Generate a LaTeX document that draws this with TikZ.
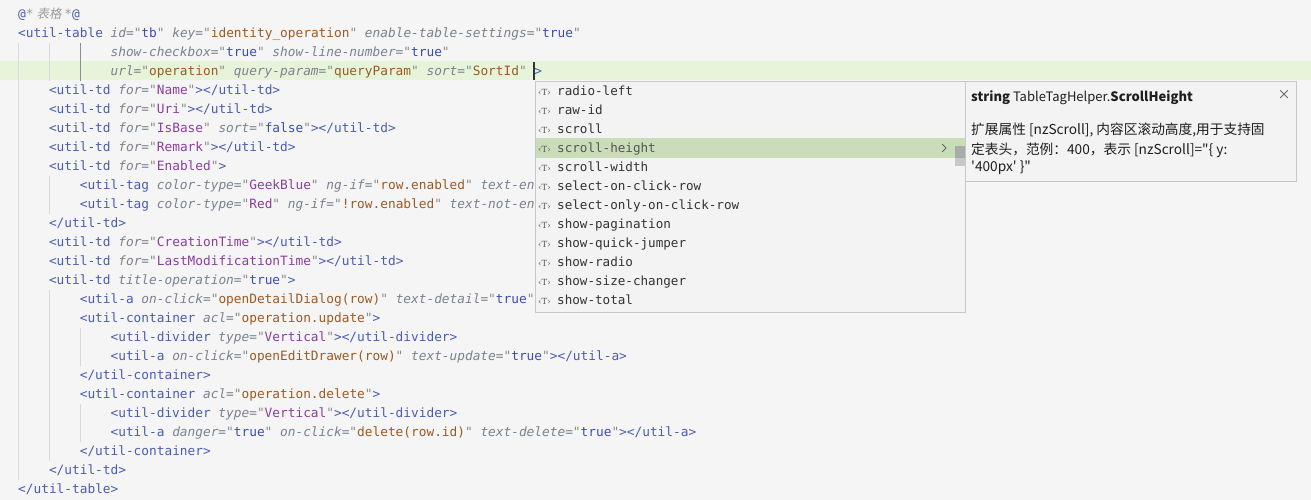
\documentclass[tikz,border=0pt]{standalone}
\usepackage{fontspec}
\usepackage{xcolor}
\setmonofont{DejaVu Sans Mono}
\newfontfamily\tipfont{Noto Sans CJK SC}
\newfontfamily\cjkslant{Noto Sans CJK SC}[FakeSlant=0.2]
\newfontfamily\iconfont{DejaVu Serif}

\definecolor{bgc}{HTML}{F5F5F5}
\definecolor{curc}{HTML}{E6F5DA}
\definecolor{guidec}{HTML}{D9D9D9}
\definecolor{activec}{HTML}{8E8E8E}
\definecolor{tagc}{HTML}{4B5CB0}
\definecolor{attrc}{HTML}{7A8290}
\definecolor{quotec}{HTML}{8C8C8C}
\definecolor{strb}{HTML}{9C5A22}
\definecolor{strp}{HTML}{8A3E9E}
\definecolor{valc}{HTML}{3B4CB8}
\definecolor{comc}{HTML}{9A9A9A}
\definecolor{panelc}{HTML}{F3F3F3}
\definecolor{borderc}{HTML}{C8C8C8}
\definecolor{selc}{HTML}{CADDB9}
\definecolor{itemc}{HTML}{333333}
\definecolor{iconc}{HTML}{555555}
\definecolor{thumbc}{HTML}{A9ADA9}
\definecolor{tipc}{HTML}{1E1E1E}

% pieces of a code line
\newcommand{\ctag}[1]{\textcolor{tagc}{#1}}
\newcommand{\cattr}[1]{\textcolor{attrc}{\itshape #1}\textcolor{attrc}{=}}
\newcommand{\cstr}[1]{\textcolor{quotec}{"}\textcolor{strb}{#1}\textcolor{quotec}{"}}
\newcommand{\cnam}[1]{\textcolor{quotec}{"}\textcolor{strp}{#1}\textcolor{quotec}{"}}
\newcommand{\cval}[1]{\textcolor{quotec}{"}\textcolor{valc}{#1}\textcolor{quotec}{"}}

\tikzset{
  codeline/.style={anchor=base west, inner sep=0pt, font=\ttfamily\fontsize{12.8}{15}\selectfont},
  item/.style={anchor=base west, inner sep=0pt, text=itemc, font=\ttfamily\fontsize{12.6}{15}\selectfont},
  itemicon/.style={anchor=base west, inner sep=0pt, text=iconc, font=\iconfont\fontsize{8.5}{9}\selectfont},
  tiptext/.style={anchor=base west, inner sep=0pt, text=tipc, font=\tipfont\fontsize{13}{18}\selectfont},
  tipdesc/.style={tiptext, font=\tipfont\fontsize{13.7}{18}\selectfont},
  guide/.style={draw=guidec, line width=0.9pt},
  panel/.style={fill=panelc, draw=borderc, line width=0.9pt}
}

\begin{document}
\begin{tikzpicture}[x=1pt,y=-1pt]
  \useasboundingbox (0,0) rectangle (1311,500);
  \fill[bgc] (0,0) rectangle (1311,500);
  \fill[curc] (0,61.5) rectangle (1311,80.5);

  % indent guides
  \draw[guide] (18.5,43) -- (18.5,480);
  \draw[guide] (49.5,43) -- (49.5,81);
  \draw[guide] (49.5,176) -- (49.5,214);
  \draw[guide] (49.5,290) -- (49.5,461);
  \draw[draw=activec, line width=0.9pt] (80.5,43) -- (80.5,81);
  \draw[guide] (80.5,328) -- (80.5,366);
  \draw[guide] (80.5,404) -- (80.5,442);

  % code
  \node[codeline] (l1) at (18,18.5) {\ctag{@}\textcolor{comc}{\itshape *}{\cjkslant\fontsize{12.5}{12}\selectfont\textcolor{comc}{\makebox[30.8pt]{表格}}}\textcolor{comc}{\itshape *}\ctag{@}};
  \node[codeline] (l2) at (18,37.5) {\ctag{<util-table} \cattr{id}\cval{tb} \cattr{key}\cstr{identity\_operation} \cattr{enable-table-settings}\cval{true}};
  \node[codeline] (l3) at (110.4,56.5) {\cattr{show-checkbox}\cval{true} \cattr{show-line-number}\cval{true}};
  \node[codeline] (l4) at (110.4,75.5) {\cattr{url}\cstr{operation} \cattr{query-param}\cstr{queryParam} \cattr{sort}\cstr{SortId} \ctag{>}};
  \node[codeline] (l5) at (48.8,94.5) {\ctag{<util-td} \cattr{for}\cnam{Name}\ctag{></util-td>}};
  \node[codeline] (l6) at (48.8,113.5) {\ctag{<util-td} \cattr{for}\cnam{Uri}\ctag{></util-td>}};
  \node[codeline] (l7) at (48.8,132.5) {\ctag{<util-td} \cattr{for}\cnam{IsBase} \cattr{sort}\cval{false}\ctag{></util-td>}};
  \node[codeline] (l8) at (48.8,151.5) {\ctag{<util-td} \cattr{for}\cnam{Remark}\ctag{></util-td>}};
  \node[codeline] (l9) at (48.8,170.5) {\ctag{<util-td} \cattr{for}\cnam{Enabled}\ctag{>}};
  \node[codeline] (l10) at (79.6,189.5) {\ctag{<util-tag} \cattr{color-type}\cnam{GeekBlue} \cattr{ng-if}\cstr{row.enabled} \textcolor{attrc}{\itshape text-en}};
  \node[codeline] (l11) at (79.6,208.5) {\ctag{<util-tag} \cattr{color-type}\cnam{Red} \cattr{ng-if}\cstr{!row.enabled} \textcolor{attrc}{\itshape text-not-en}};
  \node[codeline] (l12) at (48.8,227.5) {\ctag{</util-td>}};
  \node[codeline] (l13) at (48.8,246.5) {\ctag{<util-td} \cattr{for}\cnam{CreationTime}\ctag{></util-td>}};
  \node[codeline] (l14) at (48.8,265.5) {\ctag{<util-td} \cattr{for}\cnam{LastModificationTime}\ctag{></util-td>}};
  \node[codeline] (l15) at (48.8,284.5) {\ctag{<util-td} \cattr{title-operation}\cval{true}\ctag{>}};
  \node[codeline] (l16) at (79.6,303.5) {\ctag{<util-a} \cattr{on-click}\cstr{openDetailDialog(row)} \cattr{text-detail}\cval{true}};
  \node[codeline] (l17) at (79.6,322.5) {\ctag{<util-container} \cattr{acl}\cstr{operation.update}\ctag{>}};
  \node[codeline] (l18) at (110.4,341.5) {\ctag{<util-divider} \cattr{type}\cnam{Vertical}\ctag{></util-divider>}};
  \node[codeline] (l19) at (110.4,360.5) {\ctag{<util-a} \cattr{on-click}\cstr{openEditDrawer(row)} \cattr{text-update}\cval{true}\ctag{></util-a>}};
  \node[codeline] (l20) at (79.6,379.5) {\ctag{</util-container>}};
  \node[codeline] (l21) at (79.6,398.5) {\ctag{<util-container} \cattr{acl}\cstr{operation.delete}\ctag{>}};
  \node[codeline] (l22) at (110.4,417.5) {\ctag{<util-divider} \cattr{type}\cnam{Vertical}\ctag{></util-divider>}};
  \node[codeline] (l23) at (110.4,436.5) {\ctag{<util-a} \cattr{danger}\cval{true} \cattr{on-click}\cstr{delete(row.id)} \cattr{text-delete}\cval{true}\ctag{></util-a>}};
  \node[codeline] (l24) at (79.6,455.5) {\ctag{</util-container>}};
  \node[codeline] (l25) at (48.8,474.5) {\ctag{</util-td>}};
  \node[codeline] (l26) at (18,493.5) {\ctag{</util-table>}};

  % cursor
  \draw[line width=1.6pt, itemc] (534,62) -- (534,80);

  % completion list
  \draw[panel] (535,81.5) rectangle (965.5,312);
  \fill[selc] (535.5,138.5) rectangle (965,157.5);
  \fill[thumbc] (955,146) rectangle (965,157.5);
  \fill[borderc] (955,157.5) rectangle (965,166);
  \draw[iconc, line width=0.7pt] (942,144) -- (946,148) -- (942,152);
  \node[itemicon] (i1) at (538,95.5) {‹T›};
  \node[item] (t1) at (557,95.5) {radio-left};
  \node[itemicon] (i2) at (538,114.5) {‹T›};
  \node[item] (t2) at (557,114.5) {raw-id};
  \node[itemicon] (i3) at (538,133.5) {‹T›};
  \node[item] (t3) at (557,133.5) {scroll};
  \node[itemicon] (i4) at (538,152.5) {‹T›};
  \node[item, text=iconc] (t4) at (557,152.5) {scroll-height};
  \node[itemicon] (i5) at (538,171.5) {‹T›};
  \node[item] (t5) at (557,171.5) {scroll-width};
  \node[itemicon] (i6) at (538,190.5) {‹T›};
  \node[item] (t6) at (557,190.5) {select-on-click-row};
  \node[itemicon] (i7) at (538,209.5) {‹T›};
  \node[item] (t7) at (557,209.5) {select-only-on-click-row};
  \node[itemicon] (i8) at (538,228.5) {‹T›};
  \node[item] (t8) at (557,228.5) {show-pagination};
  \node[itemicon] (i9) at (538,247.5) {‹T›};
  \node[item] (t9) at (557,247.5) {show-quick-jumper};
  \node[itemicon] (i10) at (538,266.5) {‹T›};
  \node[item] (t10) at (557,266.5) {show-radio};
  \node[itemicon] (i11) at (538,285.5) {‹T›};
  \node[item] (t11) at (557,285.5) {show-size-changer};
  \node[itemicon] (i12) at (538,304.5) {‹T›};
  \node[item] (t12) at (557,304.5) {show-total};

  % details tooltip
  \draw[panel] (965.5,81.5) rectangle (1296,181);
  \node[tiptext] (title) at (971,101.5) {{\bfseries string} TableTagHelper.{\bfseries ScrollHeight}};
  \node[tiptext, text=iconc, anchor=center] (close) at (1284,95) {×};
  \node[tipdesc] (d1) at (971,135) {扩展属性 [nzScroll], 内容区滚动高度,用于支持固};
  \node[tipdesc] (d2) at (971,154) {定表头，范例：400，表示 [nzScroll]="\{ y:};
  \node[tipdesc] (d3) at (971,171) {'400px' \}"};
\end{tikzpicture}
\end{document}
